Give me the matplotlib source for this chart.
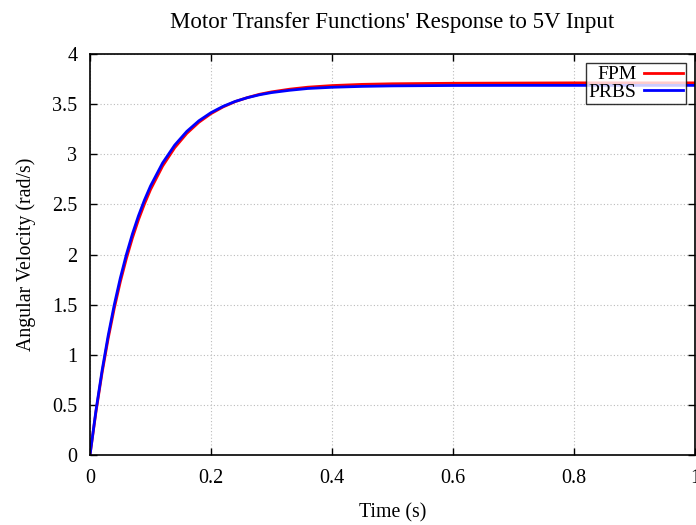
import numpy as np
import matplotlib.pyplot as plt

# time samples (s) and step responses
time_s = [0.0, 0.01, 0.02, 0.03, 0.04, 0.05, 0.06, 0.07, 0.08, 0.09, 0.10,
          0.12, 0.14, 0.16, 0.18, 0.20, 0.22, 0.24, 0.26, 0.28, 0.30,
          0.33, 0.36, 0.40, 0.45, 0.50, 0.60, 0.70, 0.80, 0.90, 1.0]
fpm = [0.0, 0.436, 0.821, 1.161, 1.460, 1.725, 1.957, 2.163, 2.345, 2.504, 2.647,
       2.882, 3.065, 3.208, 3.319, 3.405, 3.472, 3.525, 3.565, 3.598, 3.622,
       3.649, 3.669, 3.685, 3.697, 3.703, 3.708, 3.710, 3.712, 3.712, 3.712]
prbs = [0.0, 0.450, 0.844, 1.190, 1.495, 1.762, 1.997, 2.203, 2.384, 2.543, 2.683,
        2.913, 3.091, 3.228, 3.334, 3.415, 3.478, 3.527, 3.564, 3.593, 3.615,
        3.638, 3.656, 3.668, 3.677, 3.682, 3.686, 3.687, 3.687, 3.687, 3.687]

x_ticks = [0, 0.2, 0.4, 0.6, 0.8, 1]
x_tick_labels = ['0', '0.2', '0.4', '0.6', '0.8', '1']
y_ticks = [0, 0.5, 1, 1.5, 2, 2.5, 3, 3.5, 4]
y_tick_labels = ['0', '0.5', '1', '1.5', '2', '2.5', '3', '3.5', '4']

plt.rcParams['font.family'] = ['Liberation Serif', 'DejaVu Serif']

fig = plt.figure(figsize=(6.96, 5.25), dpi=100)
ax = fig.add_axes([90 / 696, 70 / 525, 605 / 696, 401 / 525])

ax.plot(time_s, fpm, color='#ff0000', linewidth=2.0, label='FPM')
ax.plot(time_s, prbs, color='#0000ff', linewidth=2.0, label='PRBS')

ax.set_xlim(0, 1)
ax.set_ylim(0, 4)
ax.set_xticks(x_ticks)
ax.set_xticklabels(x_tick_labels)
ax.set_yticks(y_ticks)
ax.set_yticklabels(y_tick_labels)
ax.tick_params(direction='in', top=True, right=True, length=5, width=1,
               labelsize=14.5)
ax.tick_params(axis='x', pad=10)
ax.tick_params(axis='y', pad=9)
ax.grid(True, linestyle=(0, (1, 2)), color='#bbbbbb', linewidth=0.8)
for sp in ax.spines.values():
    sp.set_linewidth(1.2)

ax.set_title("Motor Transfer Functions' Response to 5V Input", fontsize=16.5, pad=19)
ax.set_xlabel('Time (s)', fontsize=14.3, labelpad=11)
ax.set_ylabel('Angular Velocity (rad/s)', fontsize=14.3, labelpad=12)

leg = ax.legend(loc='upper right', bbox_to_anchor=(0.985, 0.978), fontsize=14,
                frameon=True, fancybox=False, markerfirst=False,
                handlelength=2.0, handletextpad=0.4, borderpad=0.15,
                labelspacing=0.0, borderaxespad=0)
leg.get_frame().set_edgecolor('black')
leg.get_frame().set_linewidth(1.0)

fig.savefig('out.png', dpi=100)
